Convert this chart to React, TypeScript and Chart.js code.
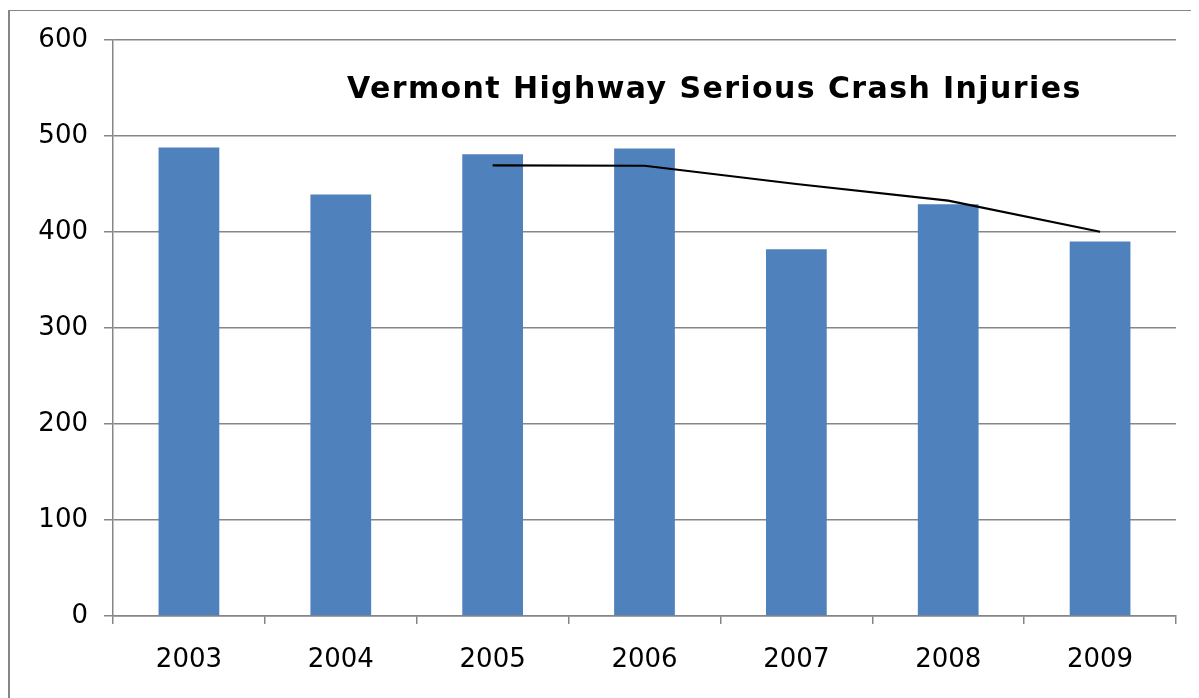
import React, { useEffect, useRef } from "react";
import { Chart, registerables } from "chart.js";

Chart.register(...registerables);

const years = ["2003", "2004", "2005", "2006", "2007", "2008", "2009"];
const seriousInjuries = [488, 439, 481, 487, 382, 429, 390];
const threeYearAverage = [null, null, 469.3, 469, 450, 432.7, 400.3];
const yTicks = [0, 100, 200, 300, 400, 500, 600];
const chartTitle = "Vermont Highway Serious Crash Injuries";

const GRID = "#868686";
const BAR = "#4F81BD";

const titlePlugin = {
  id: "insideTitle",
  afterDraw(chart: any) {
    const { ctx, chartArea } = chart;
    ctx.save();
    ctx.font = 'bold 30px "DejaVu Sans", Verdana, sans-serif';
    try {
      (ctx as any).letterSpacing = "1.4px";
    } catch (e) {}
    ctx.fillStyle = "#000";
    ctx.textAlign = "left";
    ctx.textBaseline = "alphabetic";
    ctx.fillText(chartTitle, chartArea.left + 234, chartArea.top + 58);
    ctx.restore();
  },
};

export default function App() {
  const ref = useRef<HTMLCanvasElement | null>(null);
  useEffect(() => {
    if (!ref.current) return;
    const chart = new Chart(ref.current, {
      type: "bar",
      data: {
        labels: years,
        datasets: [
          {
            type: "line",
            label: "3-year average",
            data: threeYearAverage as any,
            borderColor: "#000",
            borderWidth: 2.2,
            pointRadius: 0,
            fill: false,
            tension: 0,
            order: 0,
          } as any,
          {
            type: "bar",
            label: "Serious injuries",
            data: seriousInjuries,
            backgroundColor: BAR,
            borderWidth: 0,
            categoryPercentage: 1,
            barPercentage: 0.4,
            order: 1,
          },
        ],
      },
      options: {
        animation: false,
        responsive: true,
        maintainAspectRatio: false,
        layout: { padding: { top: 29, right: 23, left: 0, bottom: 0 } },
        plugins: {
          legend: { display: false },
          tooltip: { enabled: false },
          title: { display: false },
        },
        scales: {
          x: {
            offset: true,
            grid: {
              display: true,
              offset: true,
              drawOnChartArea: false,
              drawTicks: true,
              tickLength: 8,
              color: GRID,
              lineWidth: 1.5,
            },
            border: { display: true, color: GRID, width: 1.5 },
            ticks: {
              color: "#000",
              padding: 21,
              font: { family: '"DejaVu Sans", Verdana, sans-serif', size: 26 },
              maxRotation: 0,
            },
            afterFit(scale: any) {
              scale.height = 82;
            },
          },
          y: {
            min: 0,
            max: 600,
            afterBuildTicks(scale: any) {
              scale.ticks = yTicks.map((v) => ({ value: v }));
            },
            grid: {
              color: GRID,
              lineWidth: 1.5,
              tickLength: 9,
              drawTicks: true,
            },
            border: { display: true, color: GRID, width: 1.5 },
            ticks: {
              color: "#000",
              padding: 16,
              font: { family: '"DejaVu Sans", Verdana, sans-serif', size: 26 },
            },
            afterFit(scale: any) {
              scale.width = 103;
              scale.paddingTop = 0;
              scale.paddingBottom = 0;
            },
          },
        },
      },
      plugins: [titlePlugin],
    });
    return () => chart.destroy();
  }, []);

  return (
    <div style={{ paddingTop: 2 }}>
      <div
        style={{
          borderTop: `1px solid ${GRID}`,
          borderLeft: `2px solid ${GRID}`,
          width: 1189,
          height: 687,
          position: "relative",
          background: "#fff",
        }}
      >
        <canvas ref={ref} />
      </div>
    </div>
  );
}
